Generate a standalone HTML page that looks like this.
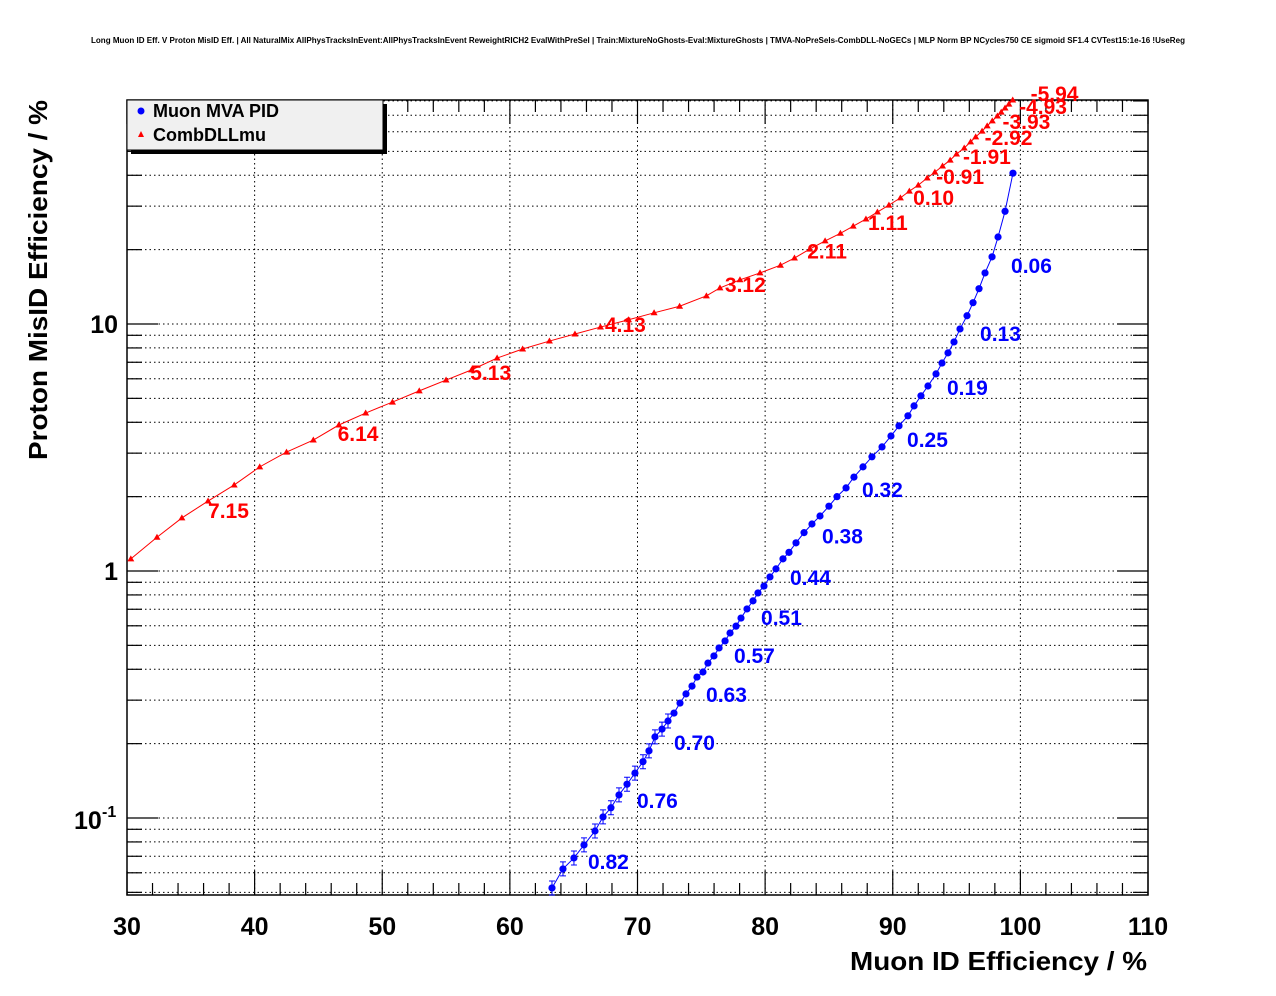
<!DOCTYPE html>
<html><head><meta charset="utf-8">
<style>
html,body{margin:0;padding:0;background:#fff;}
svg{display:block;font-family:"Liberation Sans",Arial,sans-serif;}
</style></head>
<body>
<svg id="chart" width="1276" height="996" viewBox="0 0 1276 996" xmlns="http://www.w3.org/2000/svg">
<rect x="0" y="0" width="1276" height="996" fill="#fff"/>
<text x="91" y="43" font-size="7.8" font-weight="bold" textLength="1094" lengthAdjust="spacingAndGlyphs">Long Muon ID Eff. V Proton MisID Eff. | All NaturalMix AllPhysTracksInEvent:AllPhysTracksInEvent ReweightRICH2 EvalWithPreSel | Train:MixtureNoGhosts-Eval:MixtureGhosts | TMVA-NoPreSels-CombDLL-NoGECs | MLP Norm BP NCycles750 CE sigmoid SF1.4 CVTest15:1e-16 !UseReg</text>
<g id="grid"></g>
<g id="axes"></g>
<g id="series"></g>
<text x="850" y="970" font-size="26" font-weight="bold" textLength="297" lengthAdjust="spacingAndGlyphs">Muon ID Efficiency / %</text>
<text transform="translate(47,460) rotate(-90)" font-size="26" font-weight="bold" textLength="360" lengthAdjust="spacingAndGlyphs">Proton MisID Efficiency / %</text>
<g>
<rect x="131" y="104" width="256" height="50" fill="#000"/>
<rect x="127" y="100" width="256" height="50" fill="#f0f0f0" stroke="#000" stroke-width="1"/>
<circle cx="141" cy="111" r="3.5" fill="#0000ff"/>
<text x="153" y="117" font-size="18" font-weight="bold">Muon MVA PID</text>
<polygon points="141,131 144,137 138,137" fill="#ff0000"/>
<text x="153" y="141" font-size="18" font-weight="bold">CombDLLmu</text>
</g>
</svg>
<script>
const redX=[30.3,32.35,34.3,36.35,38.4,40.4,42.5,44.6,46.6,48.7,50.8,52.9,55.0,57.0,59.0,61.0,63.1,65.1,67.1,69.3,71.3,73.3,75.4,76.46,78.03,79.6,81.2,82.3,83.5,84.7,85.9,86.9,87.9,88.8,89.7,90.6,91.3,92.0,92.7,93.3,93.9,94.5,95.0,95.6,96.1,96.5,97.0,97.4,97.8,98.2,98.5,98.8,99.1,99.4];
const redY=[1.12,1.37,1.64,1.92,2.23,2.64,3.03,3.39,3.90,4.36,4.83,5.36,5.93,6.52,7.28,7.92,8.53,9.11,9.72,10.4,11.1,11.8,13.0,14.0,15.1,16.1,17.3,18.5,20.1,21.7,23.3,24.9,26.6,28.4,30.3,32.4,34.5,36.5,39.0,41.2,43.6,46.1,48.8,51.6,54.6,57.2,60.4,63.4,66.4,69.5,72.1,74.9,77.7,80.7];
const redLabels=["7.15","6.14","5.13","4.13","3.12","2.11","1.11","0.10","-0.91","-1.91","-2.92","-3.93","-4.93","-5.94"];
const redLabelX=[36.35,46.5,56.9,67.45,76.85,83.3,88.06,91.6,93.4,95.5,97.2,98.6,99.9,100.8];
const redLabelY=[1.77,3.62,6.40,10.0,14.5,19.8,25.9,32.7,39.7,47.9,57.2,66.4,76.4,86.1];
const blueX=[63.30,64.16,65.02,65.81,66.67,67.30,67.92,68.55,69.18,69.80,70.43,70.90,71.37,71.92,72.39,72.86,73.33,73.80,74.27,74.66,75.13,75.52,75.99,76.39,76.86,77.25,77.72,78.11,78.58,79.05,79.44,79.91,80.38,80.85,81.40,81.87,82.42,83.05,83.67,84.30,85.00,85.63,86.34,86.96,87.67,88.37,89.16,89.86,90.49,91.19,91.67,92.21,92.76,93.39,93.86,94.33,94.80,95.27,95.82,96.29,96.76,97.23,97.78,98.25,98.80,99.42];
const blueY=[0.0521,0.0622,0.0689,0.0778,0.0886,0.101,0.110,0.124,0.137,0.152,0.169,0.187,0.213,0.229,0.247,0.266,0.292,0.318,0.342,0.372,0.390,0.424,0.453,0.488,0.521,0.561,0.598,0.645,0.702,0.757,0.815,0.869,0.946,1.02,1.12,1.19,1.30,1.43,1.55,1.67,1.83,2.00,2.17,2.40,2.64,2.90,3.18,3.52,3.87,4.25,4.66,5.12,5.61,6.28,6.95,7.64,8.46,9.55,10.8,12.2,13.9,16.1,18.7,22.5,28.6,40.8];
const blueLabels=["0.06","0.13","0.19","0.25","0.32","0.38","0.44","0.51","0.57","0.63","0.70","0.76","0.82"];
const blueLabelX=[99.27,96.84,94.25,91.12,87.59,84.46,81.95,79.68,77.56,75.37,72.86,69.96,66.12];
const blueLabelY=[17.3,9.2,5.56,3.42,2.15,1.39,0.946,0.652,0.457,0.318,0.203,0.118,0.067];
const xTicks=[30,40,50,60,70,80,90,100,110];

const L=127,R=1148,T=100,B=895;
const X0=30,X1=110, YD=247, Y10=324;
const sx=v=>L+(v-X0)*(R-L)/(X1-X0);
const sy=v=>Y10-(Math.log10(v)-1)*YD;
const NS="http://www.w3.org/2000/svg";
function mk(tag,attrs,parent){const e=document.createElementNS(NS,tag);for(const k in attrs)e.setAttribute(k,attrs[k]);parent.appendChild(e);return e;}
const grid=document.getElementById('grid'),axes=document.getElementById('axes'),ser=document.getElementById('series');

for(let d=-2;d<=1;d++){for(let m=1;m<=9;m++){const v=m*Math.pow(10,d);const y=sy(v);if(y<T||y>B)continue;
 const g=mk('line',{x1:L,x2:R,y1:y,y2:y,stroke:'#000','stroke-width':1,'stroke-dasharray':'1.5,3'},grid);
 
 
 const big=(m===1);const len=big?31:15;
 const t1=mk('line',{x1:L,x2:L+len,y1:y,y2:y,stroke:'#000','stroke-width':1.2},axes);
 
 
 const t2=mk('line',{x1:R,x2:R-len,y1:y,y2:y,stroke:'#000','stroke-width':1.2},axes);
 
 
}}
for(let v=X0;v<=X1;v+=2){const x=sx(v);const major=(v%10===0);
 if(major&&v>X0&&v<X1){const g=mk('line',{x1:x,x2:x,y1:T,y2:B,stroke:'#000','stroke-width':1,'stroke-dasharray':'1.5,3'},grid);
  
  }
 const len=major?24:12;
 const t=mk('line',{x1:x,x2:x,y1:B,y2:B-len,stroke:'#000','stroke-width':1.2},axes);
 
 
 const t2=mk('line',{x1:x,x2:x,y1:T,y2:T+len,stroke:'#000','stroke-width':1.2},axes);
 
 
}
const fr=mk('rect',{x:L,y:T,width:R-L,height:B-T,fill:'none',stroke:'#000','stroke-width':1.5},axes);


xTicks.forEach(v=>{const t=mk('text',{x:sx(v),y:935,'text-anchor':'middle','font-size':25,'font-weight':'bold'},axes);t.textContent=v;
 
 });
[[10,'10'],[1,'1']].forEach(([v,s])=>{const t=mk('text',{x:118,y:sy(v)+9,'text-anchor':'end','font-size':25,'font-weight':'bold'},axes);t.textContent=s;
 
 });
const tl=mk('text',{x:74,y:sy(0.1)+11,'font-size':25,'font-weight':'bold'},axes);tl.textContent='10';


const ts=mk('text',{x:102,y:sy(0.1)-1,'font-size':16,'font-weight':'bold'},axes);ts.textContent='-1';



const rl=mk('polyline',{points:redX.map((v,i)=>sx(v)+','+sy(redY[i])).join(' '),fill:'none',stroke:'#ff0000','stroke-width':1},ser);


redX.forEach((v,i)=>{const x=sx(v),y=sy(redY[i]);
 const p=mk('polygon',{points:`${x},${y-3.5} ${x+3.5},${y+2.5} ${x-3.5},${y+2.5}`,fill:'#ff0000'},ser);
 
 });
redLabels.forEach((s,i)=>{const t=mk('text',{x:sx(redLabelX[i]),y:sy(redLabelY[i])+8,'font-size':21,'font-weight':'bold',fill:'#ff0000'},ser);t.textContent=s;
 
 });
const bl=mk('polyline',{points:blueX.map((v,i)=>sx(v)+','+sy(blueY[i])).join(' '),fill:'none',stroke:'#0000ff','stroke-width':1},ser);


blueX.forEach((v,i)=>{const x=sx(v),y=sy(blueY[i]);
 if(blueY[i]<0.25){const e=mk('path',{d:`M${x},${y-7}V${y+7}M${x-3},${y-7}H${x+3}M${x-3},${y+7}H${x+3}`,stroke:'#0000ff','stroke-width':1,fill:'none'},ser);
  
  }
 const c=mk('circle',{cx:x,cy:y,r:3.6,fill:'#0000ff'},ser);
 
 });
blueLabels.forEach((s,i)=>{const t=mk('text',{x:sx(blueLabelX[i]),y:sy(blueLabelY[i])+8,'font-size':21,'font-weight':'bold',fill:'#0000ff'},ser);t.textContent=s;
 
 });
</script>
</body></html>
